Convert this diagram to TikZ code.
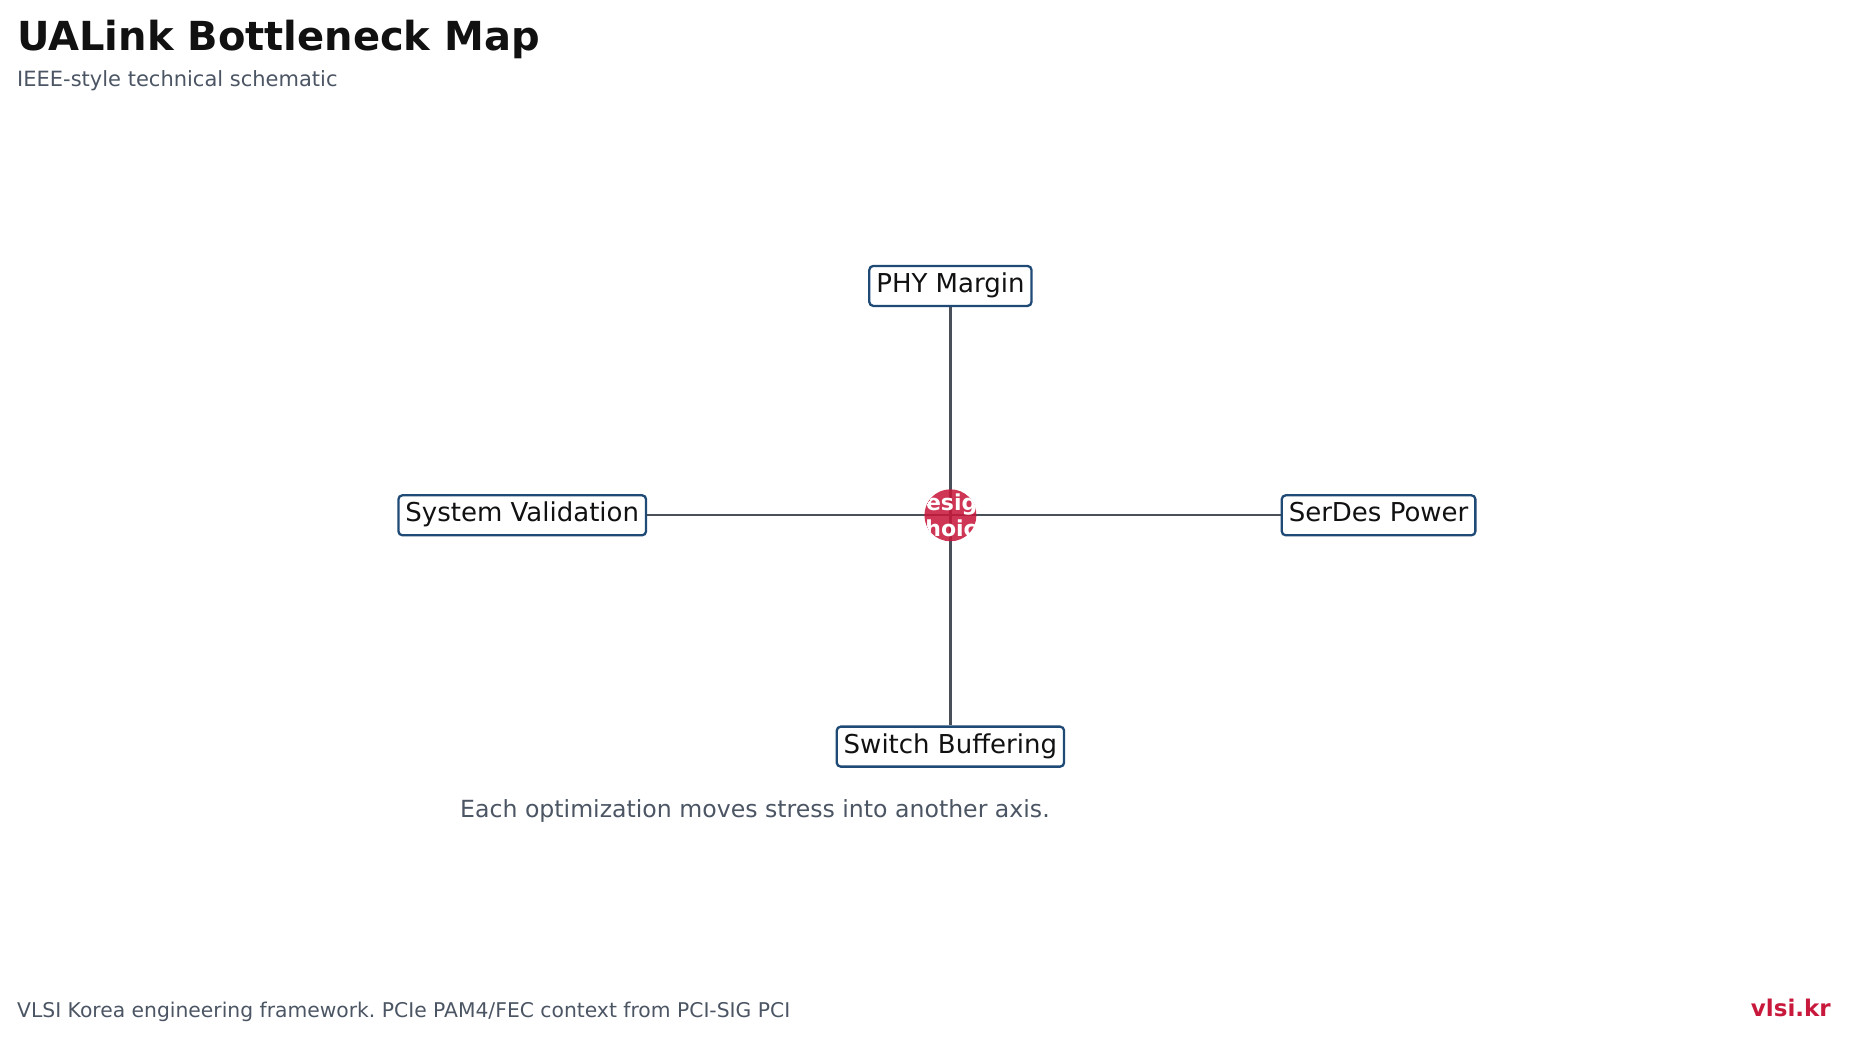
\documentclass[tikz,border=0pt]{standalone}
\usepackage{fontspec}
\setmainfont{DejaVu Sans}
\usetikzlibrary{positioning, backgrounds}
\frenchspacing
\definecolor{inkdark}{HTML}{111111}
\definecolor{slate}{HTML}{4B5563}
\definecolor{navy}{HTML}{1F4A75}
\definecolor{crimson}{HTML}{C8193C}
\definecolor{wire}{HTML}{4A5059}
\tikzset{
  block/.style = {rectangle, draw=navy, line width=2.3pt, fill=white, rounded corners=4pt, text=inkdark, font=\fontsize{26}{30}\selectfont, inner xsep=7pt, inner ysep=0pt, text height=19pt, text depth=6pt, minimum height=40pt},
  hub/.style = {circle, fill=crimson, fill opacity=0.88, minimum size=52pt, inner sep=0pt},
  link/.style = {draw=wire, line width=2.2pt},
  note/.style = {anchor=base west, inner sep=0pt, text=slate},
}

\begin{document}
\begin{tikzpicture}[x=1pt, y=1pt]
  \useasboundingbox (0,0) rectangle (1849,1038);

  \node (title) [note, text=inkdark, font=\fontsize{40}{48}\selectfont\bfseries] at (17,987.5) {UALink Bottleneck Map};
  \node (subtitle) [note, font=\fontsize{21}{25}\selectfont] at (17,951.5) {IEEE-style technical schematic};

  \node (hub) [hub, path picture={\node [text=white, text opacity=1, font=\fontsize{22}{26}\selectfont\bfseries, align=center] at (path picture bounding box.center) {Design\\Choice};}] at (950.4,522.7) {};
  \node (phy) [block, above=182pt of hub] {PHY Margin};
  \node (serdes) [block, right=304pt of hub] {SerDes Power};
  \node (switch) [block, below=184pt of hub] {Switch Buffering};
  \node (valid) [block, left=277pt of hub] {System Validation};

  \begin{scope}[on background layer]
    \draw [link] (hub.center) -- (phy);
    \draw [link] (hub.center) -- (serdes);
    \draw [link] (hub.center) -- (switch);
    \draw [link] (hub.center) -- (valid);
  \end{scope}

  \node (caption) [note, font=\fontsize{23.6}{28}\selectfont] at (460,220.5) {Each optimization moves stress into another axis.};
  \node (footer) [note, font=\fontsize{20.3}{24}\selectfont] at (17,20.5) {VLSI Korea engineering framework. PCIe PAM4/FEC context from PCI-SIG PCI};
  \node (brand) [note, anchor=base east, text=crimson, font=\fontsize{23}{27}\selectfont\bfseries] at (1831,21) {vlsi.kr};

\end{tikzpicture}
\end{document}
